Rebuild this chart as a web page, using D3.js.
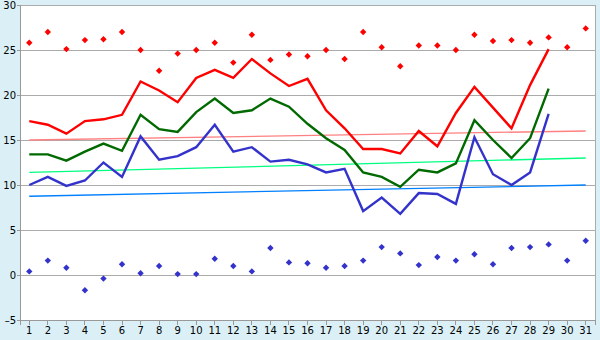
<!DOCTYPE html>
<html>
<head>
<meta charset="utf-8">
<script src="https://cdn.jsdelivr.net/npm/d3@7"></script>
<style>
html,body{margin:0;padding:0;background:#daf0f6;}
svg{display:block;}
text{font-family:"DejaVu Sans",Verdana,sans-serif;font-size:10px;fill:#000;}
</style>
</head>
<body>
<svg id="chart" width="600" height="340"></svg>
<script>
const categories = ["1","2","3","4","5","6","7","8","9","10","11","12","13","14","15","16","17","18","19","20","21","22","23","24","25","26","27","28","29","30","31"];
const yTicks = [-5,0,5,10,15,20,25,30];

const redLine   = [17.1,16.7,15.7,17.1,17.3,17.8,21.5,20.5,19.2,21.9,22.8,21.9,24.0,22.4,21.0,21.8,18.3,16.3,14.0,14.0,13.5,16.0,14.3,18.0,20.9,18.6,16.3,21.1,25.1];
const greenLine = [13.4,13.4,12.7,13.7,14.6,13.8,17.8,16.2,15.9,18.1,19.6,18.0,18.3,19.6,18.7,16.8,15.2,13.9,11.4,10.9,9.8,11.7,11.4,12.4,17.2,15.0,13.0,15.2,20.7];
const blueLine  = [10.0,10.9,9.9,10.5,12.5,10.9,15.4,12.8,13.2,14.2,16.7,13.7,14.2,12.6,12.8,12.3,11.4,11.8,7.1,8.6,6.8,9.1,9.0,7.9,15.3,11.2,10.0,11.4,17.9];

const redPoints  = [25.8,27.0,25.1,26.1,26.2,27.0,25.0,22.7,24.6,25.0,25.8,23.6,26.7,23.9,24.5,24.3,25.0,24.0,27.0,25.3,23.2,25.5,25.5,25.0,26.7,26.0,26.1,25.8,26.4,25.3,27.4];
const bluePoints = [0.4,1.6,0.8,-1.7,-0.4,1.2,0.2,1.0,0.1,0.1,1.8,1.0,0.4,3.0,1.4,1.3,0.8,1.0,1.6,3.1,2.4,1.1,2.0,1.6,2.3,1.2,3.0,3.1,3.4,1.6,3.8];

// trend lines: value at first and last category
const pinkTrend  = [15.0,16.0];
const greenTrend = [11.4,13.0];
const blueTrend  = [8.75,10.0];

const W = 600, H = 340;
const m = {left:20, right:5, top:5, bottom:20};
const svg = d3.select("#chart");

const x = d3.scaleBand().domain(categories).range([m.left, W - m.right]);
const y = d3.scaleLinear().domain([-5,30]).range([H - m.bottom, m.top]);
const cx = c => x(c) + x.bandwidth()/2;

// plot background
svg.append("rect").attr("x", m.left).attr("y", m.top)
  .attr("width", W - m.left - m.right).attr("height", H - m.top - m.bottom)
  .attr("fill", "#fff");

// gridlines
svg.append("g").selectAll("line").data(yTicks).join("line")
  .attr("x1", m.left).attr("x2", W - m.right)
  .attr("y1", d => y(d)).attr("y2", d => y(d))
  .attr("stroke", "#ababab").attr("stroke-width", 1).attr("shape-rendering","crispEdges");
// right border
svg.append("line").attr("x1", W - m.right).attr("x2", W - m.right)
  .attr("y1", m.top).attr("y2", H - m.bottom)
  .attr("stroke", "#ababab").attr("shape-rendering","crispEdges");

// axes
const yAxis = svg.append("g").attr("transform", `translate(${m.left},0)`)
  .call(d3.axisLeft(y).tickValues(yTicks).tickSize(3).tickPadding(1).tickFormat(d3.format("d")));
const xAxis = svg.append("g").attr("transform", `translate(0,${H - m.bottom})`)
  .call(d3.axisBottom(x).tickSize(5).tickPadding(2));
[yAxis, xAxis].forEach(g => {
  g.selectAll("path,line").attr("stroke", "#999").attr("shape-rendering","crispEdges");
  g.selectAll("text").attr("fill", "#000").style("font-size","10px").style("font-family","'DejaVu Sans',Verdana,sans-serif");
});
yAxis.selectAll("text").text(d => d < 0 ? "\u2013" + Math.abs(d) : d);

// trend lines
const first = categories[0], last = categories[categories.length-1];
[[pinkTrend,"#ff8080"],[greenTrend,"#00ff80"],[blueTrend,"#0080ff"]].forEach(([t,col]) => {
  svg.append("line").attr("x1", cx(first)).attr("x2", cx(last))
    .attr("y1", y(t[0])).attr("y2", y(t[1]))
    .attr("stroke", col).attr("stroke-width", 1.3);
});

// main lines
const line = d3.line().x((d,i) => cx(categories[i])).y(d => y(d));
[[redLine,"#ff0000"],[greenLine,"#006a00"],[blueLine,"#3333cc"]].forEach(([data,col]) => {
  svg.append("path").datum(data).attr("d", line)
    .attr("fill","none").attr("stroke", col).attr("stroke-width", 2.4)
    .attr("stroke-linejoin","miter");
});

// diamond markers
const diamond = "M0,-3.2L3.2,0L0,3.2L-3.2,0Z";
[[redPoints,"#ff0000"],[bluePoints,"#3333cc"]].forEach(([data,col]) => {
  svg.append("g").selectAll("path").data(data).join("path")
    .attr("d", diamond)
    .attr("transform", (d,i) => `translate(${cx(categories[i])},${y(d)})`)
    .attr("fill", col);
});
</script>
</body>
</html>
